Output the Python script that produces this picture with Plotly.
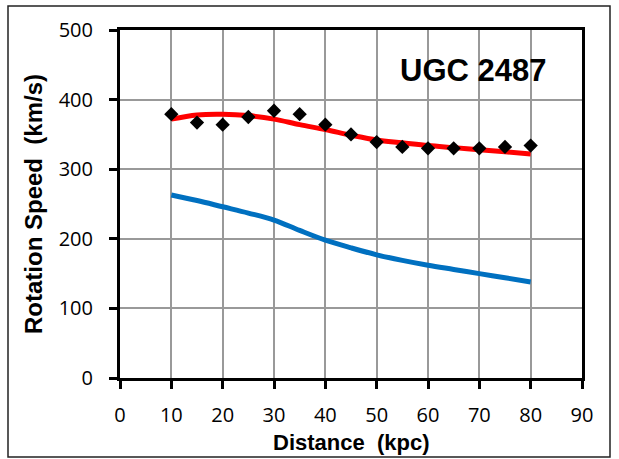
import plotly.graph_objects as go

# Data
obs_dist = [10, 15, 20, 25, 30, 35, 40, 45, 50, 55, 60, 65, 70, 75, 80]
obs_speed = [379, 367, 364, 375, 384, 379, 364, 350, 339, 332, 330, 330, 330, 332, 334]

model_dist = [10, 15, 20, 25, 30, 35, 40, 45, 50, 55, 60, 65, 70, 75, 80]
model_fit = [372, 378, 379, 377, 372, 364, 357, 349, 342, 338, 334, 331, 328, 325, 322]
model_newton = [263, 255, 246, 237, 227, 212, 198, 187, 177, 169, 162, 156, 150, 144, 138]

x_ticks = [0, 10, 20, 30, 40, 50, 60, 70, 80, 90]
y_ticks = [0, 100, 200, 300, 400, 500]

fig = go.Figure()
fig.add_trace(go.Scatter(x=model_dist, y=model_newton, mode="lines",
                         line=dict(color="#0070C0", width=5, shape="spline"),
                         showlegend=False))
fig.add_trace(go.Scatter(x=model_dist, y=model_fit, mode="lines",
                         line=dict(color="#FF0000", width=5, shape="spline"),
                         showlegend=False))
fig.add_trace(go.Scatter(x=obs_dist, y=obs_speed, mode="markers",
                         marker=dict(symbol="diamond", size=11, color="black"),
                         showlegend=False))

tickfont = dict(family="Open Sans, Liberation Sans, sans-serif", size=20, color="black")
fig.update_xaxes(range=[0, 90], tickvals=x_ticks, showgrid=True, gridcolor="#999999", gridwidth=1.5,
                 showline=True, linecolor="black", linewidth=3, mirror=True,
                 ticks="outside", ticklen=8, tickwidth=3, tickcolor="black",
                 tickfont=tickfont, zeroline=False, ticklabelstandoff=9)
fig.update_yaxes(range=[0, 500], tickvals=y_ticks, showgrid=True, gridcolor="#999999", gridwidth=1.5,
                 showline=True, linecolor="black", linewidth=3, mirror=True,
                 ticks="outside", ticklen=8, tickwidth=3, tickcolor="black",
                 tickfont=tickfont, zeroline=False, ticklabelstandoff=12)

pw, ph = 462, 348
def px(x):
    return (x - 120) / pw
def py(y):
    return (378 - y) / ph

fig.update_layout(
    width=619, height=459,
    margin=dict(l=120, r=37, t=30, b=81),
    paper_bgcolor="white", plot_bgcolor="white",
    shapes=[dict(type="rect", xref="paper", yref="paper",
                 x0=px(8), x1=px(610), y0=py(457), y1=py(6),
                 line=dict(color="#222222", width=1.5))],
    annotations=[
        dict(text="<b>UGC 2487</b>", x=px(473), y=py(70), xref="paper", yref="paper", showarrow=False,
             font=dict(family="Liberation Sans, Arial, sans-serif", size=31, color="black"),
             xanchor="center", yanchor="middle"),
        dict(text="<b>Distance&nbsp;&nbsp;(kpc)</b>", x=0.5, y=py(442), xref="paper", yref="paper",
             showarrow=False, xanchor="center", yanchor="middle",
             font=dict(family="Liberation Sans, Arial, sans-serif", size=22, color="black")),
        dict(text="<b>Rotation Speed&nbsp;&nbsp;(km/s)</b>", x=px(33), y=0.5, xref="paper", yref="paper",
             showarrow=False, xanchor="center", yanchor="middle", textangle=-90,
             font=dict(family="Liberation Sans, Arial, sans-serif", size=24, color="black")),
    ],
)
fig.write_html("out.html", config={"displayModeBar": False},
               post_script="document.body.style.margin='0';")
